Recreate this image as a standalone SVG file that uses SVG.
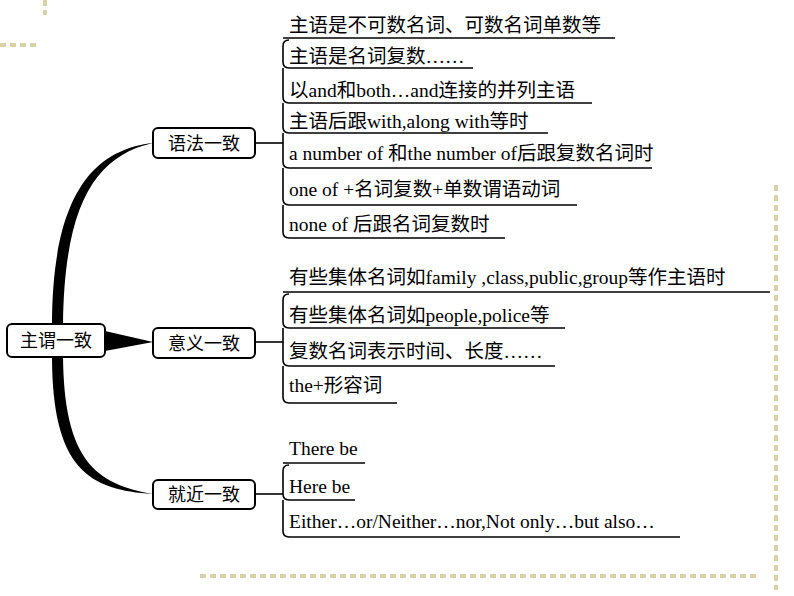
<svg xmlns="http://www.w3.org/2000/svg" width="794" height="596" viewBox="0 0 794 596">
<style>
.t{font-family:"Liberation Serif","Noto Sans CJK SC",serif;font-size:19.5px;fill:#000}
.n{font-family:"Noto Sans CJK SC",sans-serif;font-size:18px;fill:#000}
.box{fill:#fff;stroke:#000;stroke-width:2}
.ln{fill:none;stroke:#000;stroke-width:1.6}
.deco{fill:none;stroke:#d8d2a8;stroke-width:4;stroke-dasharray:6 4}
</style>
<rect width="794" height="596" fill="#fff"/>
<g id="decor">
<path class="deco" d="M200,576 H760"/>
<path class="deco" d="M776,185 V590"/>
<path class="deco" d="M0,45 H40"/>
<path class="deco" d="M45,0 V15"/>
</g>
<g id="connectors">
<path d="M52,326 C52,200 90,150 153,143 C95,156 64,205 63,326 Z" fill="#000"/>
<path d="M52,356 C52,470 90,490 153,494 C95,484 64,460 63,356 Z" fill="#000"/>
<path d="M105,331 L153,342 L105,351 Z" fill="#000"/>
<path class="ln" d="M255,143 H283"/>
<path class="ln" d="M255,342 H283"/>
<path class="ln" d="M255,494 H283"/>
<g class="ln">
<path d="M283,38 H615"/>
<path d="M289,40 Q283,40 283,46 V62 Q283,68 289,68 H473"/>
<path d="M283,68 V97 Q283,103 289,103 H592"/>
<path d="M283,103 V127 Q283,133 289,133 H548"/>
<path d="M283,133 V162 Q283,168 289,168 H652"/>
<path d="M283,168 V199 Q283,205 289,205 H577"/>
<path d="M283,205 V232 Q283,238 289,238 H505"/>
<path d="M283,292 H770"/>
<path d="M289,294 Q283,294 283,300 V322 Q283,328 289,328 H565"/>
<path d="M283,328 V360 Q283,366 289,366 H555"/>
<path d="M283,366 V397 Q283,403 289,403 H397"/>
<path d="M283,463 H365"/>
<path d="M289,465 Q283,465 283,471 V494 Q283,500 289,500 H355"/>
<path d="M283,500 V531 Q283,537 289,537 H680"/>
</g>
</g>
<g id="root"><rect class="box" x="7" y="324" width="98" height="33" rx="5"/><text class="n" x="56" y="347" text-anchor="middle">主谓一致</text></g>
<g id="b1"><rect class="box" x="153" y="128" width="102" height="30" rx="5"/><text class="n" x="204" y="150" text-anchor="middle">语法一致</text></g>
<g id="b2"><rect class="box" x="153" y="328" width="102" height="30" rx="5"/><text class="n" x="204" y="350" text-anchor="middle">意义一致</text></g>
<g id="b3"><rect class="box" x="153" y="480" width="102" height="29" rx="5"/><text class="n" x="204" y="501" text-anchor="middle">就近一致</text></g>
<g id="leaves">
<text class="t" x="289" y="32">主语是不可数名词、可数名词单数等</text>
<text class="t" x="289" y="63">主语是名词复数……</text>
<text class="t" x="289" y="97">以and和both…and连接的并列主语</text>
<text class="t" x="289" y="128">主语后跟with,along with等时</text>
<text class="t" x="289" y="160">a number of 和the number of后跟复数名词时</text>
<text class="t" x="289" y="196">one of +名词复数+单数谓语动词</text>
<text class="t" x="289" y="231">none of 后跟名词复数时</text>
<text class="t" x="289" y="284">有些集体名词如family ,class,public,group等作主语时</text>
<text class="t" x="289" y="322">有些集体名词如people,police等</text>
<text class="t" x="289" y="358">复数名词表示时间、长度……</text>
<text class="t" x="289" y="392">the+形容词</text>
<text class="t" x="289" y="455">There be</text>
<text class="t" x="289" y="493">Here be</text>
<text class="t" x="289" y="528">Either…or/Neither…nor,Not only…but also…</text>
</g>
</svg>
